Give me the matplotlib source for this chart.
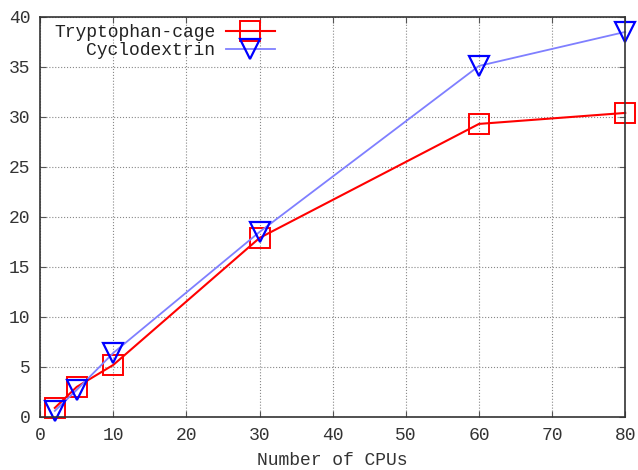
import matplotlib.pyplot as plt

# data
cpus = [2, 5, 10, 30, 60, 80]
trp_cage = [0.9, 3.0, 5.2, 17.9, 29.3, 30.4]
cyclodextrin = [0.6, 2.7, 6.4, 18.5, 35.1, 38.5]
xticks = [0, 10, 20, 30, 40, 50, 60, 70, 80]
yticks = [0, 5, 10, 15, 20, 25, 30, 35, 40]

plt.rcParams["font.family"] = ["Liberation Mono", "DejaVu Sans Mono"]
plt.rcParams["font.size"] = 13

fig = plt.figure(figsize=(6.38, 4.70), dpi=100)
ax = fig.add_axes([0.063, 0.113, 0.917, 0.851])

ax.plot(cpus, trp_cage, color="#ff0000", lw=1.5, marker="s", ms=14,
        mfc="none", mec="#ff0000", mew=1.4, label="Tryptophan-cage", clip_on=False)
ax.plot(cpus, cyclodextrin, color="#7f7fff", lw=1.3, marker="v", ms=15,
        mfc="none", mec="#0000ff", mew=1.6, label="Cyclodextrin", clip_on=False)

ax.set_xlim(0, 80)
ax.set_ylim(0, 40)
ax.set_xticks(xticks)
ax.set_yticks(yticks)
ax.grid(True, color="#888888", linestyle=":", linewidth=0.8)
ax.tick_params(direction="in", top=True, right=True, length=4, color="#555555",
               labelcolor="#333333", labelsize=13, pad=7)
for s in ax.spines.values():
    s.set_color("#333333")
    s.set_linewidth(1.2)

ax.set_xlabel("Number of CPUs", color="#333333", labelpad=6)

ax.legend(loc="upper left", frameon=False, markerfirst=False, handlelength=2.7,
          borderaxespad=0.1, handletextpad=0.6, labelspacing=0.05,
          bbox_to_anchor=(0.008, 1.005), labelcolor="#222222")
# right-align legend text like gnuplot
leg = ax.get_legend()
for t in leg.get_texts():
    t.set_ha("right")
leg._legend_box.align = "right"

fig.savefig("out.png", dpi=100)
